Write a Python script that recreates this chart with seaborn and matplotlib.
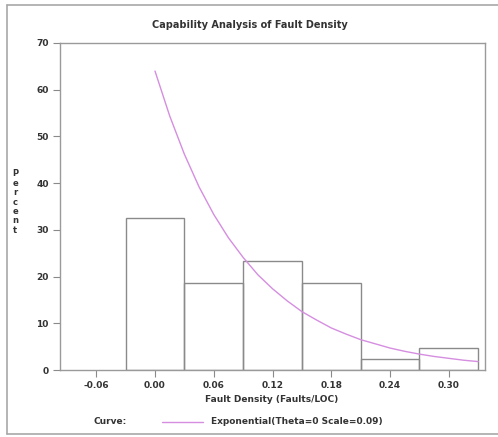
import numpy as np
import pandas as pd
import seaborn as sns
import matplotlib
matplotlib.use("Agg")
import matplotlib.pyplot as plt
from matplotlib.lines import Line2D

# ---- data ----
bin_centers = [0.00, 0.06, 0.12, 0.18, 0.24, 0.30]
bin_percent = [32.6, 18.6, 23.3, 18.6, 2.3, 4.7]
x_ticks = [-0.06, 0.00, 0.06, 0.12, 0.18, 0.24, 0.30]
x_tick_labels = ["-0.06", "0.00", "0.06", "0.12", "0.18", "0.24", "0.30"]
y_ticks = [0, 10, 20, 30, 40, 50, 60, 70]
curve_x = [0.000, 0.015, 0.030, 0.045, 0.060, 0.075, 0.090, 0.105, 0.120,
           0.135, 0.150, 0.165, 0.180, 0.195, 0.210, 0.225, 0.240, 0.255,
           0.270, 0.285, 0.300, 0.315, 0.330]
curve_y = [64.0, 54.4, 46.2, 39.2, 33.3, 28.3, 24.1, 20.4, 17.4,
           14.8, 12.5, 10.7, 9.0, 7.7, 6.5, 5.6, 4.7, 4.0,
           3.4, 2.9, 2.5, 2.1, 1.8]
title = "Capability Analysis of Fault Density"
x_label = "Fault Density (Faults/LOC)"
y_label = "Percent"
legend_title = "Curve:"
legend_label = "Exponential(Theta=0 Scale=0.09)"

sns.set_style("ticks")
plt.rcParams["font.family"] = ["DejaVu Sans"]

W, H = 498, 437
fig = plt.figure(figsize=(W / 100, H / 100), dpi=100)
ax = fig.add_axes([60 / W, 1 - 370 / H, (485 - 60) / W, (370 - 43) / H])

bar_color = "#8a8a8a"
hist_df = pd.DataFrame({"x": bin_centers, "pct": bin_percent})
sns.histplot(data=hist_df, x="x", weights="pct", binwidth=0.06,
             binrange=(-0.03, 0.33), fill=False, element="bars",
             color=bar_color, edgecolor=bar_color, linewidth=1.0, ax=ax)

curve_df = pd.DataFrame({"x": curve_x, "y": curve_y})
curve_color = "#d58ee0"
sns.lineplot(data=curve_df, x="x", y="y", color=curve_color, linewidth=1.0, ax=ax)

ax.set_xlim(-0.097, 0.337)
ax.set_ylim(0, 70)
ax.set_xticks(x_ticks)
ax.set_xticklabels(x_tick_labels)
ax.set_yticks(y_ticks)
ax.set_xlabel("")
ax.set_ylabel("")
for sp in ax.spines.values():
    sp.set_visible(True)
    sp.set_color("#9a9a9a")
    sp.set_linewidth(1.0)
ax.tick_params(axis="both", direction="out", length=5, width=0.8,
               color="#8a8a8a", labelsize=6.5, labelcolor="#333333", pad=3)
for lab in ax.get_xticklabels() + ax.get_yticklabels():
    lab.set_fontweight("bold")

tk = dict(color="#333333", fontweight="bold")
fig.text(250 / W, 1 - 25 / H, title, ha="center", va="center", fontsize=7, **tk)
fig.text(272 / W, 1 - 399 / H, x_label, ha="center", va="center", fontsize=6.5, **tk)
fig.text(15 / W, 1 - 202 / H, "\n".join(y_label), ha="center", va="center",
         fontsize=6, linespacing=1.05, **tk)

# legend row
fig.text(94 / W, 1 - 422 / H, legend_title, ha="left", va="center", fontsize=6.5, **tk)
fig.add_artist(Line2D([162 / W, 203 / W], [1 - 422 / H, 1 - 422 / H],
                      color=curve_color, linewidth=1.0, transform=fig.transFigure))
fig.text(211 / W, 1 - 422 / H, legend_label, ha="left", va="center", fontsize=6.5, **tk)

# outer frame lines of the scanned figure
frame_c = "#a8a8a8"
fig.add_artist(Line2D([7 / W, 1.0], [1 - 5 / H, 1 - 5 / H], color=frame_c,
                      linewidth=1.2, transform=fig.transFigure))
fig.add_artist(Line2D([7 / W, 7 / W], [1 - 5 / H, 1 - 434 / H], color=frame_c,
                      linewidth=1.2, transform=fig.transFigure))
fig.add_artist(Line2D([7 / W, 1.0], [1 - 434 / H, 1 - 434 / H], color=frame_c,
                      linewidth=1.2, transform=fig.transFigure))

fig.savefig("out.png", dpi=100)
